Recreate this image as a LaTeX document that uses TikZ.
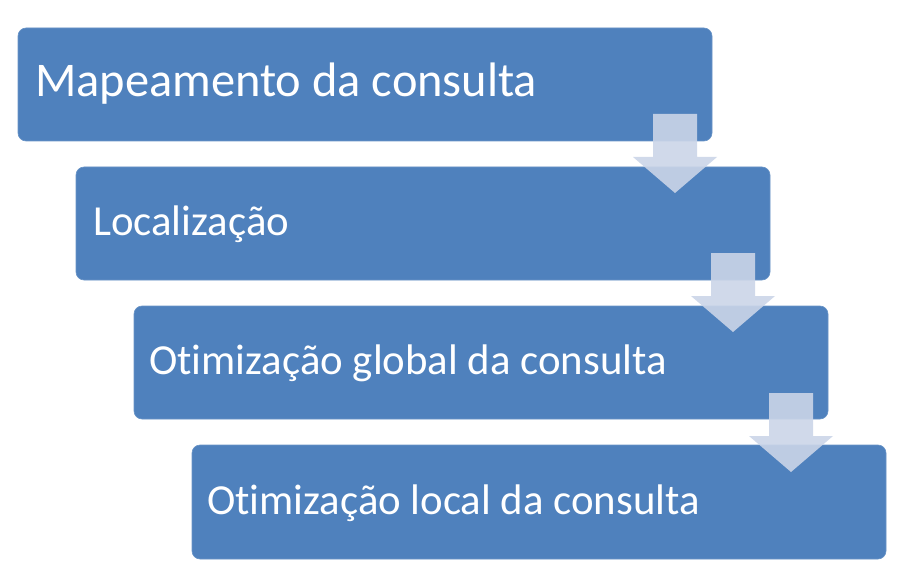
\documentclass[tikz,border=0pt]{standalone}
\usepackage{fontspec}
\setmainfont{Carlito}[Ligatures=NoCommon]
\definecolor{boxblue}{HTML}{4F81BD}
\definecolor{arrowgray}{HTML}{CBD5E8}
\begin{document}
\begin{tikzpicture}[x=1pt,y=-1pt,
  stepbox/.style={fill=boxblue,draw=boxblue!85!white,line width=0.6pt,rounded corners=8pt},
  steptext/.style={anchor=base west,text=white,inner sep=0pt,font=\fontsize{42.8}{42.8}\selectfont},
  downarrow/.style={fill=arrowgray,fill opacity=0.9,draw=none}]
\useasboundingbox (0,0) rectangle (901,588);
\fill[white] (0,0) rectangle (901,588);
% boxes
\draw[stepbox] (18,28) rectangle (712,141);
\draw[stepbox] (76,167) rectangle (770,280);
\draw[stepbox] (134,306) rectangle (828,419);
\draw[stepbox] (192,445) rectangle (886,559);
\coordinate (b1) at (18,84.5);
\coordinate (b2) at (76,223.5);
\coordinate (b3) at (134,362.5);
\coordinate (b4) at (192,502);
\node[steptext,font=\fontsize{48.4}{48.4}\selectfont] (t1) at ([xshift=17pt,yshift=-12pt]b1) {Mapeamento da consulta};
\node[steptext] (t2) at ([xshift=17pt,yshift=-12pt]b2) {Localização};
\node[steptext] (t3) at ([xshift=15pt,yshift=-12pt]b3) {Otimização global da consulta};
\node[steptext] (t4) at ([xshift=15pt,yshift=-12pt]b4) {Otimização local da consulta};
% arrows
\foreach \cx/\top in {675/114, 733/253, 791/393}{
  \path[downarrow] (\cx-22,\top) -- (\cx+22,\top) -- (\cx+22,\top+43) -- (\cx+42,\top+43)
    -- (\cx,\top+79) -- (\cx-42,\top+43) -- (\cx-22,\top+43) -- cycle;
}
\end{tikzpicture}
\end{document}
